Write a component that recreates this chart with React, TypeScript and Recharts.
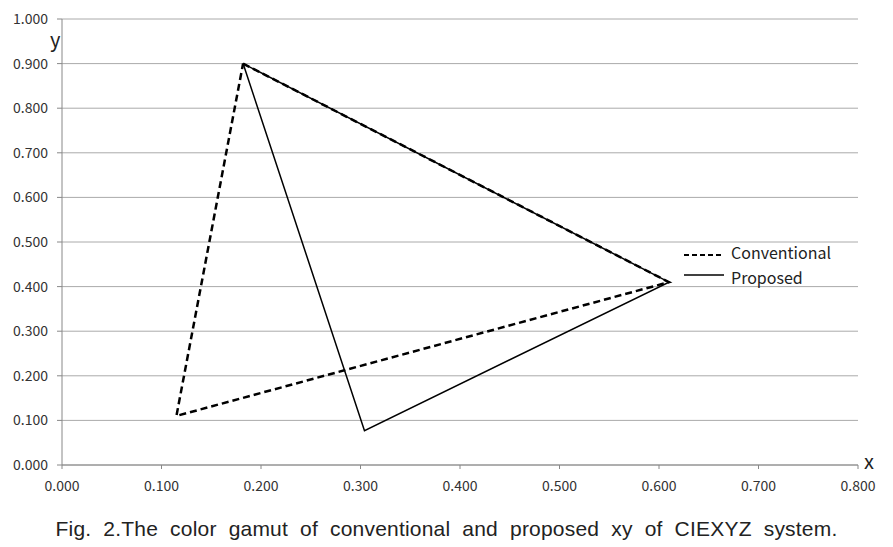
import React from "react";
import {
  LineChart,
  CartesianGrid,
  XAxis,
  YAxis,
  Line,
} from "recharts";

// gamut vertices (closed: first point repeated)
const conventionalX = [0.182, 0.61, 0.115, 0.182];
const conventionalY = [0.9, 0.41, 0.11, 0.9];
const proposedX = [0.182, 0.61, 0.304, 0.182];
const proposedY = [0.9, 0.41, 0.077, 0.9];

const xTicks = [0, 0.1, 0.2, 0.3, 0.4, 0.5, 0.6, 0.7, 0.8];
const yTicks = [0, 0.1, 0.2, 0.3, 0.4, 0.5, 0.6, 0.7, 0.8, 0.9, 1.0];

const conventional = conventionalX.map((x, i) => ({ x, y: conventionalY[i] }));
const proposed = proposedX.map((x, i) => ({ x, y: proposedY[i] }));

const font = "'Noto Sans CJK KR', 'Noto Sans', sans-serif";

const tickStyle = {
  fontSize: 14,
  fill: "#333",
  fontFamily: font,
};

const GamutLegend = () => (
  <div
    style={{
      position: "absolute",
      left: 683,
      top: 240,
      fontFamily: font,
      fontSize: 16,
      color: "#222",
      lineHeight: "25px",
    }}
  >
    <div style={{ display: "flex", alignItems: "center" }}>
      <svg width={44} height={10}>
        <line x1={1} y1={7} x2={41} y2={7} stroke="#000" strokeWidth={2} strokeDasharray="5 3" />
      </svg>
      <span style={{ marginLeft: 4 }}>Conventional</span>
    </div>
    <div style={{ display: "flex", alignItems: "center" }}>
      <svg width={44} height={10}>
        <line x1={1} y1={2} x2={41} y2={2} stroke="#000" strokeWidth={1.5} />
      </svg>
      <span style={{ marginLeft: 4 }}>Proposed</span>
    </div>
  </div>
);

const App: React.FC = () => {
  return (
    <div style={{ position: "absolute", left: 0, top: 0, width: 893, height: 547, background: "#fff" }}>
      <LineChart
        width={893}
        height={500}
        margin={{ top: 19, right: 35, left: 0, bottom: 0 }}
      >
        <CartesianGrid vertical={false} stroke="#aaaaaa" />
        <XAxis
          type="number"
          dataKey="x"
          domain={[0, 0.8]}
          ticks={xTicks}
          tickFormatter={(v: number) => v.toFixed(3)}
          tick={tickStyle}
          stroke="#888"
          tickSize={4}
          tickMargin={12}
          height={35}
          allowDuplicatedCategory={false}
        />
        <YAxis
          type="number"
          dataKey="y"
          domain={[0, 1]}
          ticks={yTicks}
          tickFormatter={(v: number) => v.toFixed(3)}
          tick={tickStyle}
          stroke="#888"
          tickSize={5}
          tickMargin={9}
          width={62}
        />
        <Line
          data={conventional}
          dataKey="y"
          type="linear"
          stroke="#000"
          strokeWidth={2.5}
          strokeDasharray="7 4"
          dot={false}
          isAnimationActive={false}
          name="Conventional"
        />
        <Line
          data={proposed}
          dataKey="y"
          type="linear"
          stroke="#000"
          strokeWidth={1.5}
          dot={false}
          isAnimationActive={false}
          name="Proposed"
        />
      </LineChart>
      <GamutLegend />
      <div
        style={{
          position: "absolute",
          left: 50,
          top: 24,
          fontFamily: font,
          fontSize: 20,
          color: "#222",
        }}
      >
        y
      </div>
      <div
        style={{
          position: "absolute",
          left: 864,
          top: 446,
          fontFamily: font,
          fontSize: 20,
          color: "#222",
        }}
      >
        x
      </div>
      <div
        style={{
          position: "absolute",
          left: 0,
          top: 517,
          width: 893,
          textAlign: "center",
          fontFamily: "'Liberation Sans', Arial, sans-serif",
          fontSize: 21,
          color: "#222",
          wordSpacing: 6,
          letterSpacing: 0.2,
        }}
      >
        Fig. 2.The color gamut of conventional and proposed xy of CIEXYZ system.
      </div>
    </div>
  );
};

export default App;
